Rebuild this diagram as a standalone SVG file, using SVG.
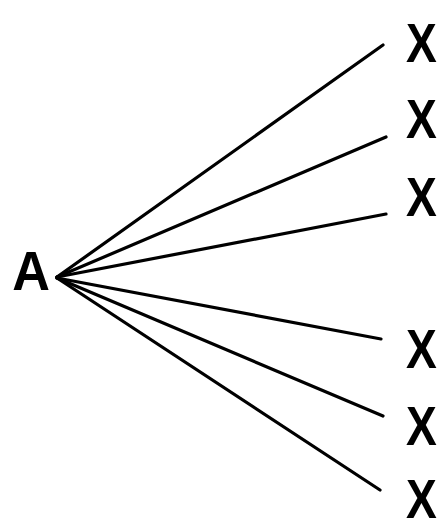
<svg xmlns="http://www.w3.org/2000/svg" width="444" height="530" viewBox="0 0 444 530">
<style>
.lbl{font-family:"Liberation Sans",Arial,sans-serif;font-size:55px;font-weight:bold;fill:#000;text-anchor:middle}
.edge{stroke:#000;stroke-width:3.2;stroke-linecap:round;fill:none}
</style>
<rect width="444" height="530" fill="#fff"/>
<g id="connectors">
<line class="edge" x1="57" y1="277" x2="383" y2="45"/>
<line class="edge" x1="57" y1="277" x2="386" y2="137"/>
<line class="edge" x1="57" y1="277" x2="386" y2="214"/>
<line class="edge" x1="57" y1="278" x2="381" y2="339"/>
<line class="edge" x1="57" y1="278" x2="383" y2="416"/>
<line class="edge" x1="57" y1="278" x2="380" y2="490"/>
</g>
<g id="nodeA"><text class="lbl" transform="translate(31,290) scale(0.95,1)" font-size="52">A</text></g>
<g id="x1"><text class="lbl" transform="translate(421.5,62) scale(0.84,1)">X</text></g>
<g id="x2"><text class="lbl" transform="translate(421.5,138) scale(0.84,1)">X</text></g>
<g id="x3"><text class="lbl" transform="translate(421.5,216) scale(0.84,1)">X</text></g>
<g id="x4"><text class="lbl" transform="translate(421.5,368) scale(0.84,1)">X</text></g>
<g id="x5"><text class="lbl" transform="translate(421.5,445) scale(0.84,1)">X</text></g>
<g id="x6"><text class="lbl" transform="translate(421.5,518) scale(0.84,1)">X</text></g>
</svg>
